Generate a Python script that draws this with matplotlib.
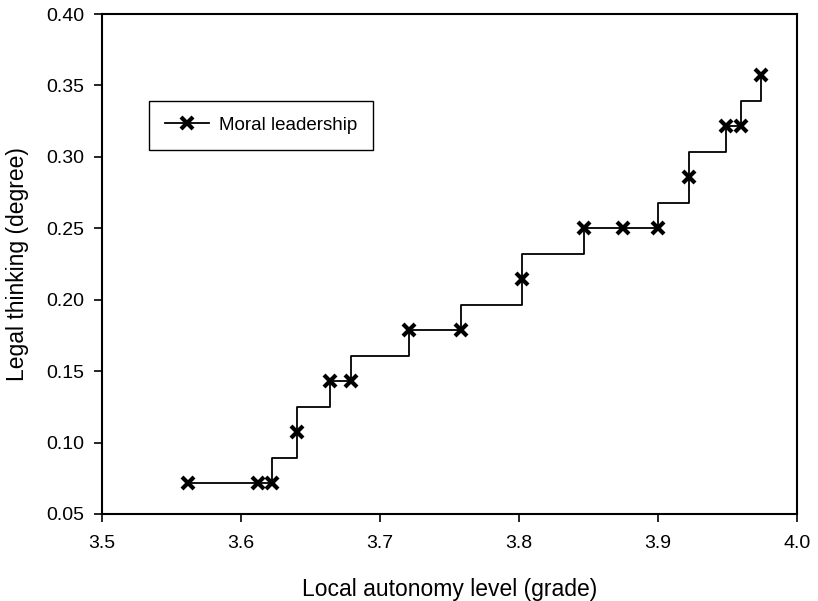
import numpy as np
import matplotlib
matplotlib.use("Agg")
import matplotlib.pyplot as plt

plt.rcParams['font.family'] = ['Liberation Sans', 'DejaVu Sans']

x_vals = [3.562, 3.612, 3.622, 3.640, 3.664, 3.679, 3.721, 3.758, 3.802,
          3.847, 3.875, 3.900, 3.922, 3.949, 3.960, 3.974]
y_vals = [2/28, 2/28, 2/28, 3/28, 4/28, 4/28, 5/28, 5/28, 6/28,
          7/28, 7/28, 7/28, 8/28, 9/28, 9/28, 10/28]
series_name = "Moral leadership"
x_ticks = [3.5, 3.6, 3.7, 3.8, 3.9, 4.0]
y_ticks = [0.05, 0.10, 0.15, 0.20, 0.25, 0.30, 0.35, 0.40]

# step path: vertical to midpoint, horizontal, vertical
xs = np.array(x_vals)
ys = np.array(y_vals)
px, py = [xs[0]], [ys[0]]
for i in range(len(xs) - 1):
    ym = (ys[i] + ys[i + 1]) / 2
    px += [xs[i], xs[i + 1], xs[i + 1]]
    py += [ym, ym, ys[i + 1]]

fig = plt.figure(figsize=(8.18, 6.01), dpi=100)
ax = fig.add_axes([0.1247, 0.1448, 0.8496, 0.8319])
ax.plot(px, py, color='black', lw=1.3, zorder=2)
ax.plot(xs, ys, linestyle='none', marker='x', ms=9, mew=3, color='black', zorder=3)
# legend proxy
ax.plot([], [], color='black', lw=1.3, marker='x', ms=8, mew=3, label=series_name)

ax.set_xlim(3.5, 4.0)
ax.set_ylim(0.05, 0.40)
ax.set_xticks(x_ticks)
ax.set_xticklabels([f"{v:.1f}" for v in x_ticks])
ax.set_yticks(y_ticks)
ax.set_yticklabels([f"{v:.2f}" for v in y_ticks])
ax.tick_params(direction='out', length=6, width=1.2, labelsize=14)
ax.tick_params(axis='y', pad=7)
ax.tick_params(axis='x', pad=9)
for s in ax.spines.values():
    s.set_linewidth(1.5)
ax.set_xlabel("Local autonomy level (grade)", fontsize=16.5, labelpad=19)
ax.set_ylabel("Legal thinking (degree)", fontsize=16.5, labelpad=12)

leg = ax.legend(loc='upper left', bbox_to_anchor=(0.0676, 0.826), borderaxespad=0,
                fancybox=False, edgecolor='black', framealpha=1, fontsize=13.5,
                handlelength=2.35, borderpad=0.85, handletextpad=0.55)
leg.get_frame().set_linewidth(1.0)

fig.savefig("out.png", dpi=100)
